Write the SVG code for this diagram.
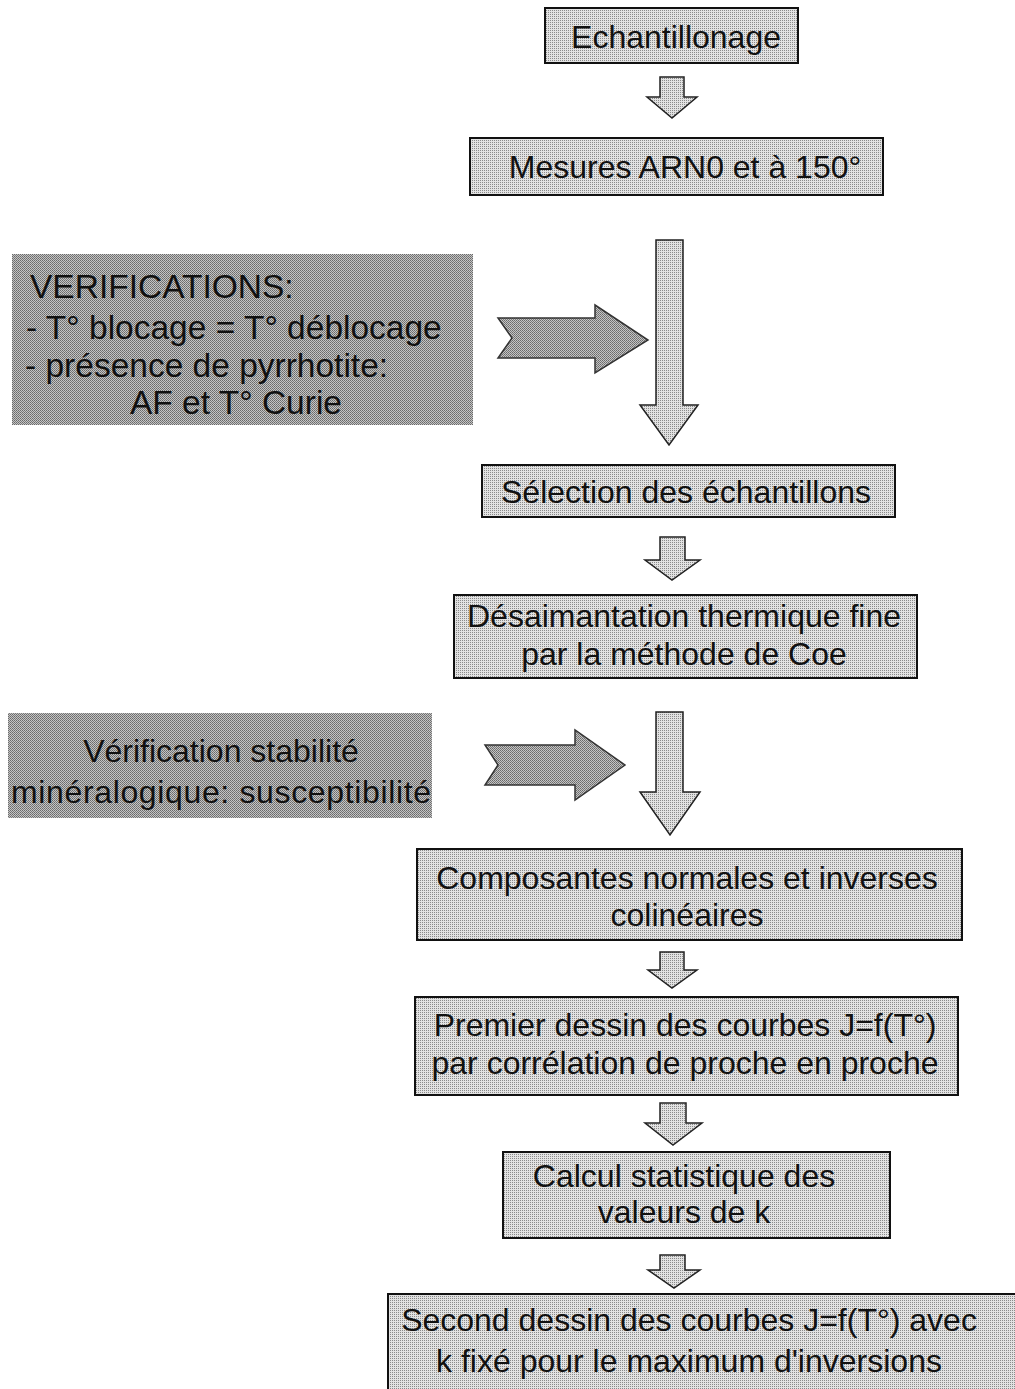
<svg xmlns="http://www.w3.org/2000/svg" width="1015" height="1389" viewBox="0 0 1015 1389">
<defs>
<pattern id="lt" width="2" height="2" patternUnits="userSpaceOnUse">
<rect width="2" height="2" fill="#e2e2e2"/>
<rect x="0" y="0" width="1" height="1" fill="#8a8a8a"/>
</pattern>
<pattern id="dk" width="2" height="2" patternUnits="userSpaceOnUse">
<rect width="2" height="2" fill="#c4c4c4"/>
<rect x="0" y="0" width="1" height="1" fill="#6a6a6a"/>
<rect x="1" y="1" width="1" height="1" fill="#7a7a7a"/>
</pattern>
</defs>
<style>
.box{fill:url(#lt);stroke:#111;stroke-width:2}
.dbox{fill:url(#dk);stroke:none}
.arr{fill:url(#lt);stroke:#222;stroke-width:1.5;stroke-linejoin:miter}
.dar{fill:url(#dk);stroke:#333;stroke-width:1.5}
text{font-family:"Liberation Sans",Arial,sans-serif;font-size:32px;fill:#111}
.c{text-anchor:middle}
.l{font-size:33.5px}
</style>
<g id="connectors">
<path class="arr" d="M660,77 H684 V97 H697 L672,118 L647,97 H660 Z"/>
<path class="arr" d="M656,240 H683 V405 H698 L669,445 L640,405 H656 Z"/>
<path class="arr" d="M660,537 H685 V560 H700 L672,580 L645,560 H660 Z"/>
<path class="arr" d="M656,712 H683 V792 H700 L670,835 L640,792 H656 Z"/>
<path class="arr" d="M660,952 H684 V970 H697 L672,988 L648,970 H660 Z"/>
<path class="arr" d="M660,1103 H686 V1123 H702 L673,1145 L645,1123 H660 Z"/>
<path class="arr" d="M660,1255 H685 V1270 H700 L674,1288 L648,1270 H660 Z"/>
<path class="dar" d="M498,318 H595 V305 L648,340 L595,373 V358 H498 L512,338 Z"/>
<path class="dar" d="M485,745 H575 V730 L625,765 L575,800 V785 H485 L498,765 Z"/>
</g>
<g id="n1"><rect class="box" x="545" y="8" width="253" height="55"/><text class="c" x="676" y="48">Echantillonage</text></g>
<g id="n2"><rect class="box" x="470" y="138" width="413" height="57"/><text class="c" x="685" y="178">Mesures ARN0 et à 150°</text></g>
<g id="n3"><rect class="dbox" x="12" y="254" width="461" height="171"/>
<text class="l" x="30" y="298">VERIFICATIONS:</text>
<text class="l" x="26" y="339">- T° blocage = T° déblocage</text>
<text class="l" x="25" y="377">- présence de pyrrhotite:</text>
<text class="l" x="130" y="414">AF et T° Curie</text></g>
<g id="n4"><rect class="box" x="482" y="465" width="413" height="52"/><text class="c" x="686" y="503">Sélection des échantillons</text></g>
<g id="n5"><rect class="box" x="454" y="595" width="463" height="83"/><text class="c" x="684" y="627">Désaimantation thermique fine</text><text class="c" x="684" y="665">par la méthode de Coe</text></g>
<g id="n6"><rect class="dbox" x="8" y="713" width="424" height="105"/><text class="c" x="221" y="762">Vérification stabilité</text><text class="c" x="221" y="803" textLength="420">minéralogique: susceptibilité</text></g>
<g id="n7"><rect class="box" x="417" y="849" width="545" height="91"/><text class="c" x="687" y="889">Composantes normales et inverses</text><text class="c" x="687" y="926">colinéaires</text></g>
<g id="n8"><rect class="box" x="415" y="997" width="543" height="98"/><text class="c" x="685" y="1036">Premier dessin des courbes J=f(T°)</text><text class="c" x="685" y="1074">par corrélation de proche en proche</text></g>
<g id="n9"><rect class="box" x="503" y="1152" width="387" height="86"/><text class="c" x="684" y="1187">Calcul statistique des</text><text class="c" x="684" y="1223">valeurs de k</text></g>
<g id="n10"><rect class="box" x="388" y="1294" width="640" height="100"/><text class="c" x="689" y="1331">Second dessin des courbes J=f(T°) avec</text><text class="c" x="689" y="1372">k fixé pour le maximum d'inversions</text></g>
</svg>
